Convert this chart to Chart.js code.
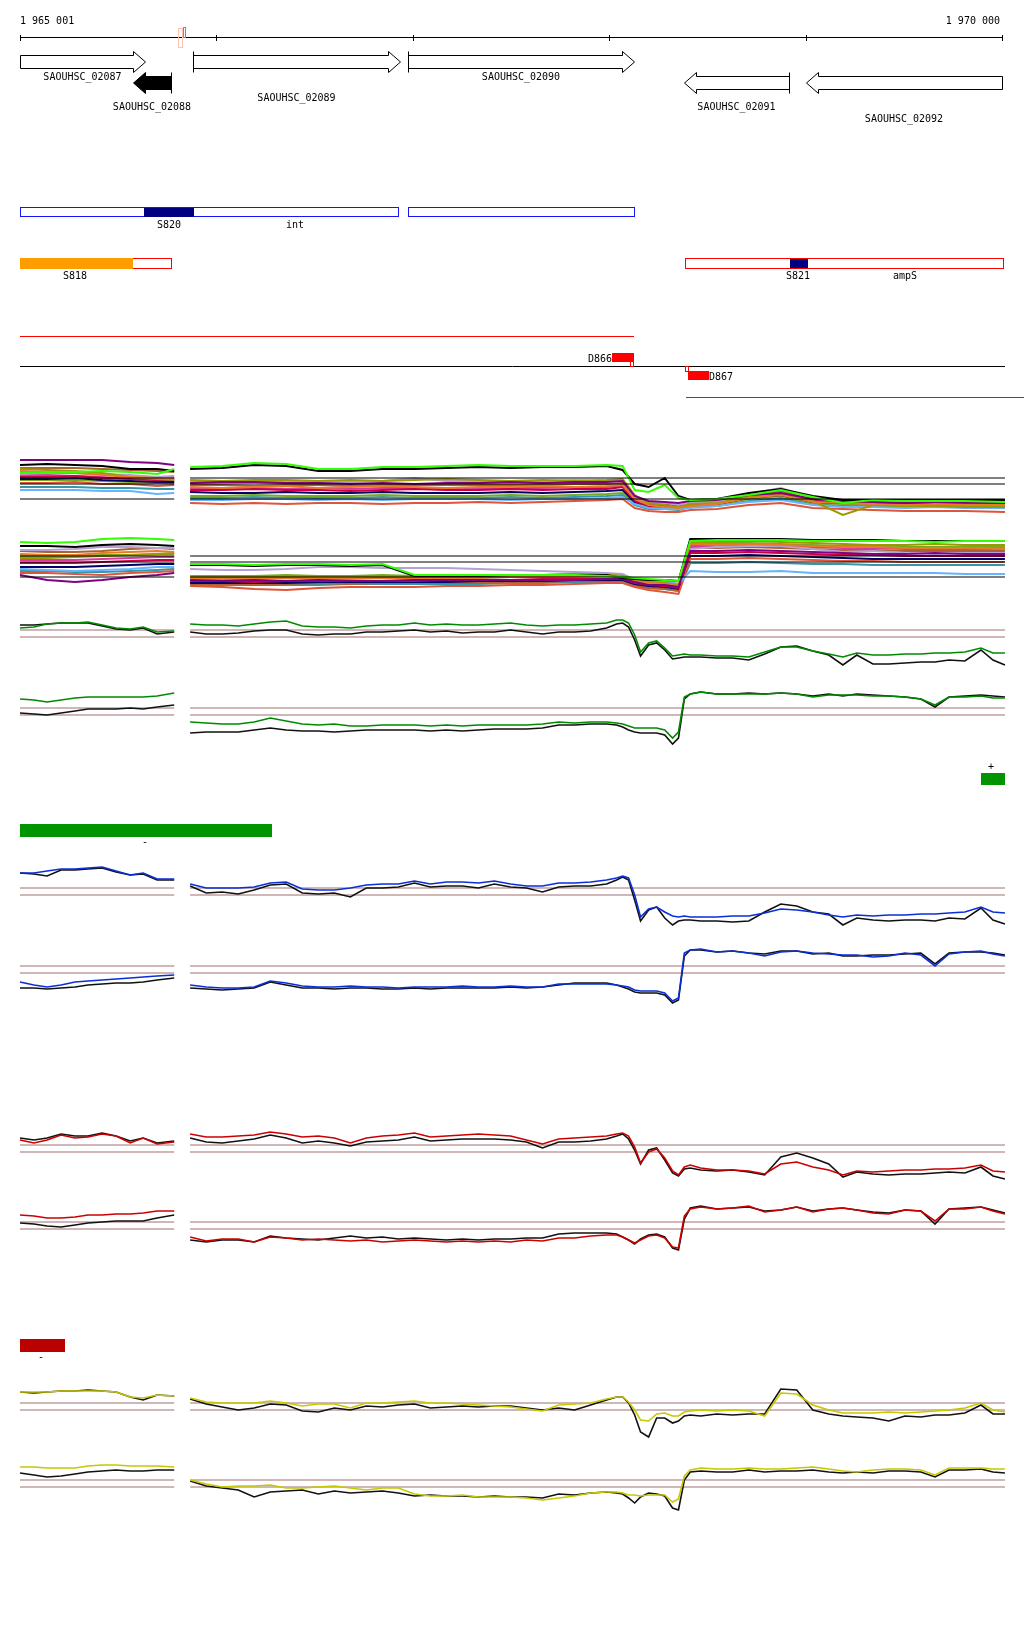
<!DOCTYPE html>
<html>
<head>
<meta charset="utf-8">
<script src="https://cdn.jsdelivr.net/npm/chart.js@4/dist/chart.umd.min.js"></script>
<style>
  html, body { margin: 0; padding: 0; background: #fff; }
  canvas { display: block; }
</style>
</head>
<body>
<canvas id="browser" width="1024" height="1640"></canvas>
<script>
// ---- coordinates (bp) ----
const VIEW_START = 1965001, VIEW_END = 1970000;
const rulerTicks = [1965001, 1966000, 1967000, 1968000, 1969000, 1970000];
const rulerLabels = ['1 965 001', '1 970 000'];
const PANEL_GAP = 1965826;

// genes
const geneNames = ['SAOUHSC_02087', 'SAOUHSC_02088', 'SAOUHSC_02089', 'SAOUHSC_02090', 'SAOUHSC_02091', 'SAOUHSC_02092'];
const geneStart = [1965001, 1965577, 1965883, 1966978, 1968380, 1969001];
const geneEnd = [1965638, 1965770, 1966937, 1968125, 1968914, 1970000];
const geneStrand = [1, -1, 1, 1, -1, -1];

// annotated regions
const blueRegions = [[1965001, 1966932], [1966978, 1968130]];
const redRegions = [[1965001, 1965776], [1968385, 1970010]];
const navySites = [[1965633, 1965888, 207], [1968920, 1969011, 258]];
const orangeSites = [[1965001, 1965577]];
const regionLabels = ['S820', 'int', 'S818', 'S821', 'ampS'];
const regionLabelPos = [1965760, 1966402, 1965281, 1968960, 1969506];

// transcripts
const plusTranscript = [1965001, 1968125];
const minusTranscript = [1968390, 1970200];
const siteNames = ['D866', 'D867'];
const siteRanges = [[1968013, 1968125], [1968400, 1968507]];

// probe positions
const leftPos = [1965001, 1965072, 1965139, 1965210, 1965281, 1965347, 1965419, 1965490, 1965562, 1965628, 1965699, 1965786];
const rightPos = [1965867, 1965949, 1966030, 1966112, 1966193, 1966275, 1966356, 1966438, 1966520, 1966601,
  1966683, 1966764, 1966846, 1966927, 1967009, 1967090, 1967172, 1967253, 1967335, 1967416,
  1967498, 1967579, 1967661, 1967743, 1967824, 1967906, 1967987, 1968038, 1968069, 1968099,
  1968130, 1968160, 1968201, 1968242, 1968283, 1968323, 1968353, 1968383, 1968413, 1968466,
  1968548, 1968629, 1968711, 1968792, 1968874, 1968955, 1969037, 1969118, 1969190, 1969261,
  1969343, 1969424, 1969506, 1969587, 1969659, 1969730, 1969811, 1969893, 1969954, 1970015];
const leftCoarse = [1965001, 1965139, 1965281, 1965419, 1965562, 1965699, 1965786];
const rightCoarse = [1965867, 1966030, 1966193, 1966356, 1966520, 1966683, 1966846, 1967009, 1967172, 1967335,
  1967498, 1967661, 1967824, 1967987, 1968069, 1968130, 1968201, 1968283, 1968353, 1968413,
  1968548, 1968711, 1968874, 1969037, 1969190, 1969343, 1969506, 1969659, 1969811, 1970015];

// all-condition profiles (left 7 + right 30 values)
const profileColors = ['#33ff00', '#000000', '#800080', '#e87a2a', '#9a9a00', '#66b3ff', '#cc0044',
  '#b4a0d2', '#e0553a', '#000066', '#a86430', '#d63c9c', '#77aa22', '#3399aa'];
const plusProfiles = [
  [26,27,27,28,27,25,30, 32,33,36,35,30,30,32,32,33,34,33,33,33,34,33, 9,7,14,1,-1,0,4,9,2,-4,-1,-2,-2,-2,-3],
  [34,35,34,33,30,30,28, 30,31,34,33,28,28,30,30,31,32,31,32,32,33,29, 15,12,21,3,-1,0,6,10,3,-1,-1,-1,-1,-1,-1],
  [39,39,39,39,37,36,34, 16,17,17,16,16,15,16,15,16,16,17,16,17,17,18, 3,-2,-3,-4,-2,-1,4,6,0,-2,-3,-4,-3,-3,-4],
  [28,27,26,24,22,21,20, 12,11,12,13,11,12,13,12,11,12,12,13,12,13,14, 0,-6,-8,-9,-7,-5,1,4,-3,-4,-5,-6,-5,-6,-6],
  [30,29,28,26,22,20,19, 19,18,19,19,18,19,18,19,20,19,18,19,18,19,20, 4,-4,-6,-8,-5,-4,2,5,-2,-16,-6,-7,-7,-8,-8],
  [9,9,9,8,8,5,6, -1,-1,0,0,-1,0,-1,0,0,0,-1,0,0,1,2, -5,-9,-10,-10,-9,-7,-3,-1,-6,-8,-8,-9,-8,-9,-9],
  [22,22,23,21,20,19,19, 9,9,10,9,9,8,9,10,9,9,10,9,10,10,12, -2,-8,-7,-9,-6,-5,2,5,-2,-3,-4,-4,-5,-4,-5],
  [25,26,26,25,24,22,23, 18,18,17,18,17,17,18,21,18,18,18,18,19,18,19, 2,-4,-4,-6,-4,-3,5,11,1,-2,-2,-3,-3,-3,-3],
  [16,16,17,15,15,13,14, -4,-5,-4,-5,-4,-4,-5,-4,-4,-3,-4,-3,-2,-1,0, -9,-12,-13,-13,-11,-10,-6,-4,-9,-10,-11,-12,-12,-12,-13],
  [20,20,21,19,18,17,17, 7,6,6,7,6,6,7,6,6,6,7,6,7,8,9, -3,-7,-6,-8,-5,-5,1,4,-3,-4,-4,-5,-4,-5,-5],
  [31,31,31,30,29,28,27, 14,14,13,14,14,13,14,14,14,14,14,14,15,15,16, 2,-5,-5,-7,-4,-3,3,8,-1,-2,-3,-3,-3,-3,-4],
  [24,24,23,22,20,19,21, 11,11,11,10,11,10,11,11,11,11,11,11,12,12,13, 1,-6,-5,-8,-5,-4,3,6,-1,-3,-3,-4,-3,-4,-4],
  [19,19,19,18,17,16,16, 3,3,4,3,3,3,4,3,3,3,4,3,4,5,6, -4,-8,-9,-10,-7,-6,0,3,-4,-5,-6,-6,-6,-6,-7],
  [12,12,12,11,11,10,10, 1,1,2,1,1,1,2,1,1,1,2,1,2,3,4, -6,-10,-10,-11,-8,-7,-2,1,-5,-7,-7,-8,-7,-8,-8]
];
const minusProfiles = [
  [35,34,35,38,39,38,37, 13,13,12,13,13,12,13,2,2,2,2,2,2,1,0, -1,-2,-3,-4, 36,37,37,37,36,36,36,36,35,36,36],
  [31,31,30,32,33,32,31, 12,12,11,12,12,11,12,1,1,1,2,2,2,2,-1, -2,-3,-3,-4, 38,38,38,38,37,37,37,36,36,36,36],
  [2,-3,-5,-3,0,2,4, -3,-4,-3,-4,-3,-4,-4,-3,-3,-3,-3,-3,-3,-2,-2, -5,-8,-8,-10, 26,26,27,26,25,24,23,23,24,23,23],
  [23,22,22,24,25,26,25, -2,-2,-2,-1,-2,-2,-1,-2,-1,-1,0,0,1,1,0, -4,-6,-7,-9, 33,32,33,32,31,30,30,29,29,29,28],
  [19,19,20,21,22,23,24, 0,0,0,1,1,1,1,0,0,1,1,2,3,2,1, -2,-5,-6,-8, 35,35,36,35,34,33,32,32,33,32,32],
  [8,7,6,7,8,10,10, -1,-1,-1,-1,-1,0,0,-1,-1,-1,0,0,0,1,0, -3,-5,-5,-7, 6,5,5,6,4,4,4,4,4,3,3],
  [14,14,14,15,16,17,17, -4,-4,-5,-4,-4,-4,-4,-4,-3,-3,-3,-2,-2,-2,-2, -6,-8,-9,-11, 24,24,25,24,23,22,22,21,21,21,21],
  [27,27,28,30,30,29,29, 8,7,7,8,10,10,9,9,9,8,7,6,5,4,3, -3,-5,-6,-8, 28,30,31,31,28,25,26,24,23,24,24],
  [4,4,3,2,4,5,6, -9,-10,-12,-13,-11,-10,-10,-10,-9,-9,-8,-8,-7,-6,-6, -10,-13,-15,-17, 18,18,19,18,17,16,16,15,15,15,15],
  [10,10,10,11,12,13,13, -6,-6,-6,-6,-5,-5,-5,-5,-5,-4,-4,-4,-3,-3,-3, -7,-9,-10,-12, 21,21,22,21,20,19,18,18,18,18,18],
  [26,25,25,26,28,29,28, -7,-7,-8,-7,-6,-7,-6,-6,-6,-6,-5,-5,-4,-4,-3, -8,-11,-12,-14, 29,29,30,29,28,27,27,26,26,26,26],
  [17,17,17,18,19,20,20, -5,-5,-5,-5,-5,-4,-4,-4,-4,-4,-3,-3,-2,-2,-2, -6,-9,-9,-11, 31,31,32,31,30,29,29,28,28,28,28],
  [21,21,21,22,22,23,23, 1,1,1,2,1,1,2,1,1,2,2,2,3,3,2, -2,-4,-5,-7, 34,34,34,33,32,31,31,30,30,30,30],
  [6,6,5,5,6,7,8, -8,-8,-8,-8,-8,-7,-7,-7,-7,-7,-6,-6,-5,-5,-5, -9,-11,-12,-14, 14,14,15,14,13,13,12,12,12,12,12]
];
const profileRefs = [0, 15, 21];
const trackRefs = [0, 7];

// selected condition tracks (left 12 + right 60 values)
const greenPlusG = [9,10,13,14,14,15,12,9,8,10,5,6,
  13,12,12,11,13,15,16,11,10,10, 9,11,12,12,14,12,13,12,12,13, 14,12,11,12,12,13,14,17,17,14,
  2,-15,-6,-4,-11,-19,-18,-17,-18,-18, -19,-19,-20,-15,-10,-10,-14,-17,-20,-16, -18,-18,-17,-17,-16,-16,-15,-11,-16,-16];
const greenPlusK = [12,12,13,14,14,14,11,8,7,9,3,5,
  5,3,3,4,6,7,7,3,2,3, 3,5,5,6,7,5,6,4,5,5, 7,5,3,5,5,6,9,13,14,10,
  -3,-19,-8,-6,-13,-22,-21,-20,-20,-20, -21,-21,-23,-17,-10,-9,-14,-18,-28,-18, -27,-27,-26,-25,-25,-23,-24,-13,-23,-28];
const greenMinusG = [16,15,13,15,17,18,18,18,18,18,19,22,
  -7,-8,-9,-9,-7,-3,-6,-9,-10,-9, -11,-11,-10,-10,-10,-11,-10,-11,-10,-10, -10,-10,-9,-7,-8,-7,-7,-8,-9,-11,
  -13,-13,-13,-13,-15,-23,-17,18,21,23, 21,21,21,21,22,21,18,20,20,20, 19,19,18,16,10,18,18,19,17,17];
const greenMinusK = [2,1,0,2,4,6,6,6,7,6,8,10,
  -18,-17,-17,-17,-15,-13,-15,-16,-16,-17, -16,-15,-15,-15,-15,-16,-15,-16,-15,-14, -14,-14,-13,-10,-10,-9,-9,-10,-12,-15,
  -17,-18,-18,-18,-20,-29,-23,16,21,23, 21,21,22,21,22,21,19,21,19,21, 20,19,18,16,8,18,19,20,19,18];
const bluePlusB = [22,22,24,26,26,27,28,24,20,22,16,16,
  11,7,7,7,8,12,13,6,5,5, 7,10,11,11,14,11,13,13,12,14, 11,9,9,12,12,13,15,17,19,17,
  0,-22,-14,-12,-17,-21,-22,-21,-22,-22, -22,-21,-21,-18,-14,-15,-17,-20,-22,-20, -21,-20,-20,-19,-19,-18,-17,-12,-17,-18];
const bluePlusK = [22,21,19,25,25,26,27,23,20,21,15,15,
  9,2,3,1,5,10,11,2,1,2, -2,7,7,8,12,8,9,9,7,11, 8,7,3,8,9,9,11,15,18,15,
  -5,-26,-15,-12,-23,-30,-26,-25,-25,-26, -26,-27,-26,-17,-9,-11,-17,-19,-30,-23, -25,-26,-25,-25,-26,-23,-24,-13,-25,-29];
const blueMinusB = [-9,-12,-14,-12,-9,-8,-7,-6,-5,-4,-3,-2,
  -12,-14,-15,-15,-14,-8,-10,-13,-14,-14, -13,-14,-14,-15,-14,-14,-14,-13,-14,-14, -13,-14,-14,-11,-11,-11,-11,-12,-13,-14,
  -17,-18,-18,-18,-20,-28,-25,20,23,24, 21,22,20,17,21,22,20,19,18,18, 16,17,20,18,7,19,21,22,19,17];
const blueMinusK = [-15,-15,-16,-15,-14,-12,-11,-10,-10,-9,-7,-5,
  -15,-16,-17,-16,-15,-9,-12,-15,-15,-16, -15,-15,-16,-16,-15,-16,-15,-15,-15,-15, -14,-15,-14,-12,-10,-10,-10,-12,-14,-16,
  -19,-20,-20,-20,-22,-30,-27,17,23,23, 21,22,20,19,22,22,19,20,17,17, 18,18,19,20,9,20,21,21,20,18];
const redPlusR = [12,9,12,17,14,15,18,16,9,14,8,10,
  18,15,15,16,17,20,18,15,16,14, 9,14,16,17,19,15,16,17,18,17, 16,12,8,13,14,15,16,18,19,16,
  5,-11,0,3,-6,-19,-23,-15,-13,-16, -18,-18,-19,-22,-12,-10,-15,-18,-23,-19, -20,-19,-18,-18,-17,-17,-16,-13,-19,-20];
const redPlusK = [14,12,14,18,16,16,19,16,11,14,9,11,
  14,10,9,11,13,17,14,9,11,9, 6,10,11,12,15,11,12,13,13,13, 12,10,4,10,10,11,13,16,18,13,
  2,-12,2,4,-8,-21,-24,-17,-16,-18, -19,-18,-20,-23,-5,-1,-6,-12,-25,-20, -22,-23,-22,-22,-21,-20,-21,-15,-24,-27];
const redMinusR = [14,13,11,11,12,14,14,15,15,16,18,18,
  -8,-12,-10,-10,-13,-8,-9,-11,-10,-11, -12,-11,-13,-12,-11,-12,-13,-12,-13,-12, -13,-11,-12,-9,-9,-7,-6,-6,-8,-11,
  -14,-11,-7,-6,-9,-18,-19,13,20,22, 20,21,23,17,19,22,17,20,21,19, 16,15,19,18,8,20,20,22,18,15];
const redMinusK = [6,5,3,2,4,6,7,8,8,8,11,14,
  -11,-13,-11,-11,-13,-7,-9,-10,-11,-9, -7,-9,-8,-10,-9,-10,-11,-10,-11,-10, -10,-9,-9,-5,-4,-4,-4,-5,-8,-11,
  -15,-10,-6,-5,-8,-19,-21,10,21,23, 20,21,22,18,19,22,18,20,21,19, 17,16,19,18,5,20,21,22,19,16];
const yellowPlusY = [18,18,18,19,19,19,19,18,13,12,15,14,
  12,8,7,7,7,9,7,4,6,6, 2,7,7,8,9,7,7,6,5,4, 3,1,-1,5,6,7,11,13,13,8,
  0,-10,-11,-4,-3,-6,-6,-2,-1,0, -1,0,-1,-6,17,16,5,0,-3,-3, -3,-2,-3,-2,-1,0,2,7,0,-2];
const yellowPlusK = [18,17,18,19,19,20,19,18,13,10,15,14,
  11,6,3,0,2,6,5,-1,-2,2, 0,4,3,5,6,2,3,4,3,4, 4,2,0,2,0,5,10,13,13,7,
  -5,-22,-27,-8,-8,-13,-11,-6,-5,-6, -4,-5,-4,-4,21,20,0,-4,-6,-7, -8,-11,-6,-7,-5,-5,-3,5,-4,-4];
const yellowMinusY = [20,20,19,19,19,21,22,22,21,21,21,20,
  7,3,0,1,1,2,-1,-1,0,1, -1,-3,-1,-1,-7,-9,-9,-8,-10,-10, -10,-11,-13,-11,-9,-6,-5,-5,-6,-8,
  -8,-9,-8,-8,-8,-15,-12,11,17,19, 18,18,19,18,18,19,20,18,16,15, 17,18,18,17,12,19,19,19,18,18];
const yellowMinusK = [14,12,10,11,13,15,16,17,16,16,17,17,
  6,1,-1,-3,-10,-5,-4,-3,-7,-4, -6,-5,-4,-6,-9,-8,-9,-9,-10,-9, -10,-10,-11,-7,-8,-6,-5,-6,-7,-11,
  -16,-10,-6,-7,-9,-21,-23,7,15,16, 15,15,17,15,16,16,17,15,14,15, 14,16,16,15,10,17,17,18,15,14];

// legend bars
const greenKeyPlus = [1969893, 1970015];
const greenKeyMinus = [1965001, 1966285];
const redKeyMinus = [1965001, 1965230];

// ---- layout ----
const W = 1024, H = 1640;
const PX0 = 20, PX1 = 1002;
const pxPerBp = (PX1 - PX0) / (VIEW_END - VIEW_START);
const XMIN = VIEW_START - PX0 / pxPerBp;
const XMAX = XMIN + W / pxPerBp;
const FONT = '10px "DejaVu Sans Mono"';
const BROWN = '#a07070';

// track zero rows
const trackZero = { tA: 499, tB: 577, tC: 637, tD: 715, tE: 895, tF: 973, tG: 1152, tH: 1229, tI: 1410, tJ: 1487 };

function profilePoints(lPos, rPos, values) {
  const pts = lPos.map((x, i) => ({ x, y: values[i] }));
  pts.push({ x: PANEL_GAP, y: null });
  rPos.forEach((x, i) => pts.push({ x, y: values[lPos.length + i] }));
  return pts;
}
function refPoints(v) {
  return [
    { x: leftPos[0], y: v }, { x: leftPos[leftPos.length - 1], y: v }, { x: PANEL_GAP, y: null },
    { x: rightPos[0], y: v }, { x: rightPos[rightPos.length - 1], y: v }
  ];
}

const datasets = [];
function addLine(axis, data, color, width, order) {
  datasets.push({
    yAxisID: axis, data, borderColor: color, borderWidth: width,
    pointRadius: 0, tension: 0, fill: false, order, spanGaps: false
  });
}

// multi-condition tracks
[['tA', plusProfiles], ['tB', minusProfiles]].forEach(([axis, profiles]) => {
  profiles.forEach((vals, i) => addLine(axis, profilePoints(leftCoarse, rightCoarse, vals), profileColors[i], 2, 2));
  profileRefs.forEach(v => addLine(axis, refPoints(v), '#000', 1.2, 0));
});

// single-condition tracks
const lineTracks = [
  ['tC', greenPlusK, greenPlusG, '#008a00'],
  ['tD', greenMinusK, greenMinusG, '#008a00'],
  ['tE', bluePlusK, bluePlusB, '#0a2fd8'],
  ['tF', blueMinusK, blueMinusB, '#0a2fd8'],
  ['tG', redPlusK, redPlusR, '#cc0000'],
  ['tH', redMinusK, redMinusR, '#cc0000'],
  ['tI', yellowPlusK, yellowPlusY, '#c8c800'],
  ['tJ', yellowMinusK, yellowMinusY, '#c8c800']
];
lineTracks.forEach(([axis, black, colored, color]) => {
  trackRefs.forEach(v => addLine(axis, refPoints(v), BROWN, 1.2, 3));
  addLine(axis, profilePoints(leftPos, rightPos, black), '#111', 1.6, 2);
  addLine(axis, profilePoints(leftPos, rightPos, colored), color, 1.6, 1);
});

const scales = {
  x: { type: 'linear', min: XMIN, max: XMAX, display: false },
  row: { type: 'linear', min: 0, max: H, reverse: true, display: false }
};
Object.entries(trackZero).forEach(([id, z]) => {
  scales[id] = { type: 'linear', min: z - H, max: z, display: false };
});

// annotation drawing (genes, regions, ruler, labels)
const annotations = {
  id: 'annotations',
  afterDatasetsDraw(chart) {
    const ctx = chart.ctx;
    const xs = chart.scales.x;
    const X = v => Math.round(xs.getPixelForValue(v));
    ctx.save();
    ctx.lineWidth = 1;
    ctx.font = FONT;
    ctx.fillStyle = '#000';

    const hline = (a, b, y, c) => {
      ctx.strokeStyle = c; ctx.beginPath();
      ctx.moveTo(X(a), y + 0.5); ctx.lineTo(X(b), y + 0.5); ctx.stroke();
    };
    const box = (a, b, y0, y1, stroke, fill) => {
      const x0 = X(a), x1 = X(b);
      if (fill) { ctx.fillStyle = fill; ctx.fillRect(x0, y0, x1 - x0, y1 - y0 + 1); }
      if (stroke) { ctx.strokeStyle = stroke; ctx.strokeRect(x0 + 0.5, y0 + 0.5, x1 - x0 - 1, y1 - y0); }
    };
    const text = (s, x, y, align) => {
      ctx.fillStyle = '#000'; ctx.textAlign = align || 'center'; ctx.textBaseline = 'alphabetic';
      ctx.fillText(s, x, y);
    };

    // ruler
    hline(VIEW_START, VIEW_END, 37, '#000');
    ctx.strokeStyle = '#000';
    rulerTicks.forEach(t => {
      const x = X(t) + 0.5;
      ctx.beginPath(); ctx.moveTo(x, 35); ctx.lineTo(x, 41); ctx.stroke();
    });
    text(rulerLabels[0], X(VIEW_START), 24, 'left');
    text(rulerLabels[1], X(VIEW_END) - 2, 24, 'right');
    box(1965806, 1965832, 28, 47, '#ffc4b4');
    box(1965832, 1965847, 27, 37, '#ff5a3c');

    // genes
    const geneTop = [51, 72, 51, 51, 72, 72];
    const geneLabelY = [80, 110, 101, 80, 110, 122];
    const geneFilled = [false, true, false, false, false, false];
    geneNames.forEach((name, i) => {
      const s = X(geneStart[i]) + 0.5, e = X(geneEnd[i]) + 0.5, t = geneTop[i] + 0.5;
      const hd = 12;
      ctx.beginPath();
      if (geneStrand[i] > 0) {
        ctx.moveTo(s, t + 4); ctx.lineTo(e - hd, t + 4); ctx.lineTo(e - hd, t);
        ctx.lineTo(e, t + 10.5); ctx.lineTo(e - hd, t + 21); ctx.lineTo(e - hd, t + 17); ctx.lineTo(s, t + 17);
      } else {
        ctx.moveTo(e, t + 4); ctx.lineTo(s + hd, t + 4); ctx.lineTo(s + hd, t);
        ctx.lineTo(s, t + 10.5); ctx.lineTo(s + hd, t + 21); ctx.lineTo(s + hd, t + 17); ctx.lineTo(e, t + 17);
      }
      ctx.closePath();
      ctx.fillStyle = geneFilled[i] ? '#000' : '#fff';
      ctx.fill();
      ctx.strokeStyle = '#000';
      ctx.stroke();
      const tail = geneStrand[i] > 0 ? (geneStart[i] > VIEW_START ? s : null) : (geneEnd[i] < VIEW_END ? e : null);
      if (tail !== null) {
        ctx.beginPath(); ctx.moveTo(tail, t); ctx.lineTo(tail, t + 21); ctx.stroke();
      }
      text(name, (X(geneStart[i]) + X(geneEnd[i])) / 2, geneLabelY[i]);
    });

    // regions
    blueRegions.forEach(r => box(r[0], r[1], 207, 216, '#1414ff', '#fff'));
    box(orangeSites[0][0], redRegions[0][1], 258, 268, '#ff0000', '#fff');
    box(redRegions[1][0], redRegions[1][1], 258, 268, '#ff0000', '#fff');
    orangeSites.forEach(r => box(r[0], r[1], 258, 268, null, '#ff9c00'));
    navySites.forEach(r => box(r[0], r[1], r[2] + 1, r[2] + 9, null, '#000080'));
    const regionLabelY = [228, 228, 279, 279, 279];
    regionLabels.forEach((s, i) => text(s, X(regionLabelPos[i]), regionLabelY[i]));

    // transcripts
    hline(plusTranscript[0], plusTranscript[1], 336, '#ff0000');
    hline(VIEW_START, 1970015, 366, '#000');
    hline(minusTranscript[0], minusTranscript[1], 397, '#ff0000');
    box(siteRanges[0][0], siteRanges[0][1], 353, 361, null, '#ff0000');
    box(1968105, 1968125, 361, 366, '#ff0000');
    text(siteNames[0], X(siteRanges[0][0]), 362, 'right');
    box(siteRanges[1][0], siteRanges[1][1], 371, 379, null, '#ff0000');
    box(1968385, 1968405, 366, 371, '#ff0000');
    text(siteNames[1], X(siteRanges[1][1]), 380, 'left');

    // legend keys
    box(greenKeyPlus[0], greenKeyPlus[1], 773, 784, null, '#009400');
    text('+', X(1969944), 770);
    box(greenKeyMinus[0], greenKeyMinus[1], 824, 836, null, '#009400');
    text('-', X(1965638), 845);
    box(redKeyMinus[0], redKeyMinus[1], 1339, 1351, null, '#bb0000');
    text('-', X(1965108), 1360);

    ctx.restore();
  }
};

new Chart(document.getElementById('browser'), {
  type: 'line',
  data: { datasets },
  options: {
    responsive: false,
    animation: false,
    devicePixelRatio: 1,
    layout: { padding: 0 },
    parsing: true,
    scales,
    plugins: { legend: { display: false }, tooltip: { enabled: false } }
  },
  plugins: [annotations]
});
</script>
</body>
</html>
